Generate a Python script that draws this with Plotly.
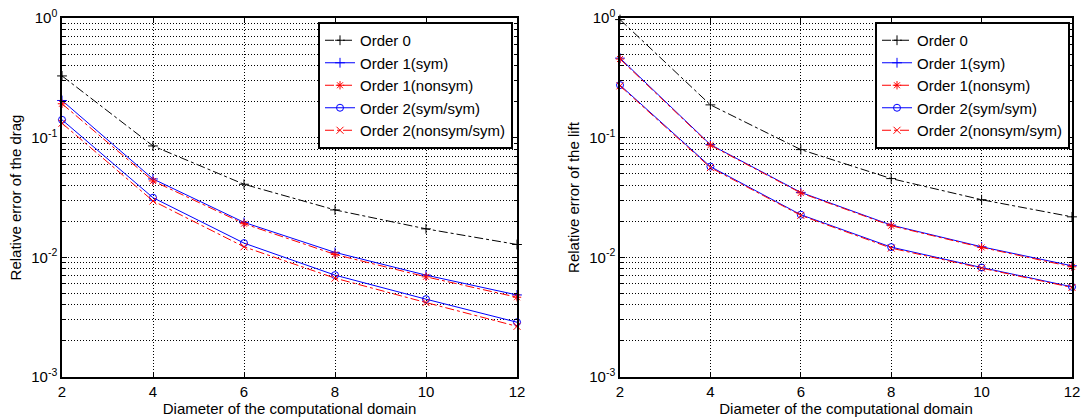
import plotly.graph_objects as go
from plotly.subplots import make_subplots

# ---- data ----
diameter = [2, 4, 6, 8, 10, 12]

drag_order0 = [0.328, 0.0853, 0.0408, 0.0249, 0.0173, 0.0128]
drag_order1_sym = [0.2045, 0.0452, 0.0196, 0.0110, 0.0071, 0.00485]
drag_order1_nonsym = [0.192, 0.0435, 0.0191, 0.01057, 0.00687, 0.00464]
drag_order2_sym = [0.141, 0.0315, 0.01315, 0.0071, 0.00447, 0.00287]
drag_order2_nonsym = [0.132, 0.0296, 0.01225, 0.0067, 0.00419, 0.00265]

lift_order0 = [0.97, 0.188, 0.0795, 0.0455, 0.0303, 0.0218]
lift_order1_sym = [0.462, 0.0875, 0.0349, 0.0186, 0.01225, 0.0085]
lift_order1_nonsym = [0.454, 0.0865, 0.0345, 0.01837, 0.0121, 0.00833]
lift_order2_sym = [0.275, 0.0573, 0.0227, 0.01217, 0.00822, 0.00567]
lift_order2_nonsym = [0.271, 0.0562, 0.0224, 0.01194, 0.00812, 0.0056]

series_names = ["Order 0", "Order 1(sym)", "Order 1(nonsym)",
                "Order 2(sym/sym)", "Order 2(nonsym/sym)"]

x_ticks = [2, 4, 6, 8, 10, 12]
y_major = [1e-3, 1e-2, 1e-1, 1e0]
y_major_text = ["10<sup>-3</sup>", "10<sup>-2</sup>", "10<sup>-1</sup>", "10<sup>0</sup>"]
y_minor = [m * 10.0 ** e for e in (-3, -2, -1) for m in range(2, 10)]

styles = [
    dict(color="black", dash="dashdot", symbol="cross-thin-open"),
    dict(color="blue", dash="solid", symbol="cross-thin-open"),
    dict(color="red", dash="dashdot", symbol="asterisk-open"),
    dict(color="blue", dash="solid", symbol="circle-open"),
    dict(color="red", dash="dashdot", symbol="x-thin-open"),
]

FONT = "Liberation Sans, Arial, Helvetica, sans-serif"

fig = make_subplots(rows=1, cols=2)

panels = [
    (1, [drag_order0, drag_order1_sym, drag_order1_nonsym, drag_order2_sym, drag_order2_nonsym], "legend"),
    (2, [lift_order0, lift_order1_sym, lift_order1_nonsym, lift_order2_sym, lift_order2_nonsym], "legend2"),
]
for col, series, leg in panels:
    for name, vals, st in zip(series_names, series, styles):
        fig.add_trace(go.Scatter(
            x=diameter, y=vals, name=name, mode="lines+markers",
            line=dict(color=st["color"], dash=st["dash"], width=1),
            marker=dict(symbol=st["symbol"], size=7, color=st["color"],
                        line=dict(color=st["color"], width=1)),
            cliponaxis=False,
            legend=leg,
        ), row=1, col=col)

W, H = 1084, 417
def px_x(p):
    return p / W
def px_y(p):
    return 1 - p / H

GRID_DASH = "1px,2px"
grid = dict(showgrid=True, gridcolor="black", gridwidth=1, griddash=GRID_DASH)
xcommon = dict(
    range=[2, 12], tickvals=x_ticks, ticks="inside", ticklen=5, tickcolor="black",
    showline=True, linecolor="black", linewidth=1.5, mirror="ticks",
    zeroline=False, automargin=True,
    tickfont=dict(size=15, color="black", family=FONT),
    title=dict(text="Diameter of the computational domain",
               font=dict(size=15, color="black", family=FONT), standoff=0),
    **grid,
)
ycommon = dict(
    type="log", range=[-3, 0], tickvals=y_major, ticktext=y_major_text,
    ticks="inside", ticklen=5, tickcolor="black",
    showline=True, linecolor="black", linewidth=1.5, mirror="ticks",
    zeroline=False, automargin=True,
    tickfont=dict(size=15, color="black", family=FONT),
    minor=dict(tickvals=y_minor, ticks="inside", ticklen=3, tickcolor="black",
               showgrid=True, gridcolor="black", gridwidth=1, griddash=GRID_DASH),
    **grid,
)

fig.update_xaxes(**xcommon)
fig.update_yaxes(**ycommon)
fig.update_xaxes(domain=[px_x(62), px_x(517)], row=1, col=1)
fig.update_xaxes(domain=[px_x(620), px_x(1072)], row=1, col=2)
fig.update_yaxes(domain=[px_y(377), px_y(18)])
fig.update_yaxes(title=dict(text="Relative error of the drag",
                            font=dict(size=15, color="black", family=FONT), standoff=6), row=1, col=1)
fig.update_yaxes(title=dict(text="Relative error of the lift",
                            font=dict(size=15, color="black", family=FONT), standoff=6), row=1, col=2)

legend_common = dict(
    bgcolor="white", bordercolor="black", borderwidth=2,
    font=dict(size=15, color="black", family=FONT),
    xanchor="right", yanchor="top", itemwidth=30, tracegroupgap=0,
)
fig.update_layout(
    template="none",
    width=W, height=H,
    margin=dict(l=0, r=0, t=0, b=0, autoexpand=False),
    paper_bgcolor="white", plot_bgcolor="white",
    font=dict(family=FONT, size=15, color="black"),
    showlegend=True,
    legend=dict(x=px_x(513), y=px_y(22), **legend_common),
    legend2=dict(x=px_x(1070), y=px_y(22), **legend_common),
)

fig.write_html(
    "out.html",
    config={"displayModeBar": False},
    post_script="document.body.style.margin='0';document.body.style.overflow='hidden';",
)
